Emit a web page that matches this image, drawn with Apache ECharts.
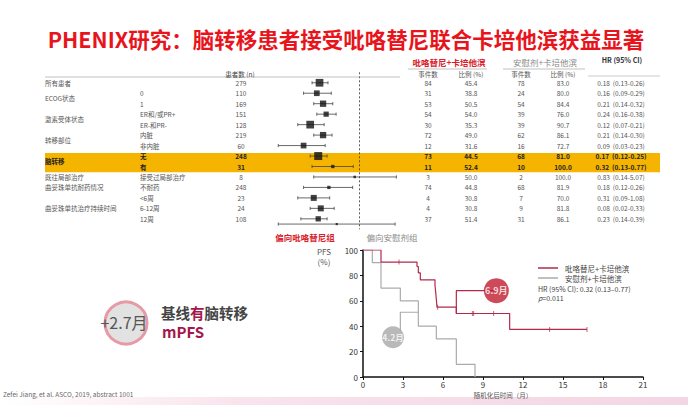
<!DOCTYPE html>
<html><head><meta charset="utf-8">
<script src="https://cdn.jsdelivr.net/npm/echarts@6/dist/echarts.min.js"></script>
<style>html,body{margin:0;padding:0;background:#fff}#c{width:688px;height:405px}</style>
</head><body><div id="c"></div>
<script>
// ---------------- DATA ----------------
const groupLabels = ['所有患者','ECOG状态','激素受体状态','转移部位','脑转移','既往局部治疗','曲妥珠单抗耐药情况','曲妥珠单抗治疗持续时间'];
const groupFirstRow = [0,1,3,5,7,9,10,11];
const groupLastRow  = [0,2,4,6,8,9,10,13];
const subgroupLabels = ['','0','1','ER和/或PR+','ER-和PR-','内脏','非内脏','无','有','接受过局部治疗','不耐药','<6周','6-12周','12周'];
const highlightRows = [7,8];
const patientsN  = [279,110,169,151,128,219,60,248,31,8,248,23,24,108];
const pyroEvents = [84,31,53,54,30,72,12,73,11,3,74,4,4,37];
const pyroPct    = [45.4,38.8,50.5,54.0,35.3,49.0,31.6,44.5,52.4,50.0,44.8,30.8,30.8,51.4];
const placEvents = [78,24,54,39,39,62,16,68,10,2,68,7,9,31];
const placPct    = [83.0,80.0,84.4,76.0,90.7,86.1,72.7,81.0,100.0,100.0,81.9,70.0,81.8,86.1];
const hrValue = [0.18,0.16,0.21,0.24,0.12,0.21,0.09,0.17,0.32,0.83,0.18,0.31,0.08,0.23];
const hrLow   = [0.13,0.09,0.14,0.16,0.07,0.14,0.03,0.12,0.13,0.14,0.12,0.09,0.02,0.14];
const hrHigh  = [0.26,0.29,0.32,0.38,0.21,0.30,0.23,0.25,0.77,5.07,0.26,1.08,0.33,0.39];
// forest plot marks as drawn in the picture
const forestRow  = [0,1,2,3,4,5,6,7,8,9,10,11,12,13,13.5];
const forestHR   = [0.18,0.16,0.21,0.24,0.12,0.21,0.09,0.17,0.32,0.83,0.27,0.14,0.19,0.17,0.38];
const forestLow  = [0.13,0.09,0.14,0.16,0.07,0.14,0.03,0.12,0.13,0.14,0.09,0.07,0.12,0.08,0.03];
const forestHigh = [0.26,0.30,0.32,0.37,0.22,0.31,0.23,0.25,0.78,5.07,0.76,0.28,0.34,0.25,4.8];
// Kaplan-Meier PFS
const pyroName = '吡咯替尼+卡培他滨';
const placName = '安慰剂+卡培他滨';
const pyroTime = [0,1.35,4.05,4.15,4.3,5.4,5.45,5.5,5.55,7.0,11.0,16.8];
const pyroSurv = [100,90.5,87,82,76.5,72,67,61,55,50,37.5,37.5];
const pyroCensorTime = [2.7,5.6,8.2,8.3,9.8,14.0,16.8];
const pyroCensorSurv = [90.5,55,50,50,50,37.5,37.5];
const placTime = [0,0.7,1.35,2.8,4.15,5.5,7.0,8.4];
const placSurv = [100,90,70,60,40,30,10,0];
const pyroMedian = 6.9, placMedian = 4.2, medianGain = 2.7;
const overallHR = '0.32 (0.13–0.77)', pValue = '0.011';

// ---------------- STYLE ----------------
const FONT = '"Noto Sans CJK SC", "Noto Sans", sans-serif';
const SQUARE_SIZE = [7.7,5.7,6.3,5.2,7.7,6.3,5.7,8,3.3,2.5,3.3,6,6,5.3,2.2];
const RED = '#b3294c', GRAY = '#ababab';

const chart = echarts.init(document.getElementById('c'), null, {renderer:'svg', width:688, height:405});

function T(text, x, y, size, color, align, weight) {
  return {type:'text', silent:true, z:10, style:{text:text, x:x, y:y, fill:color,
    font:(weight||'normal')+' '+size+'px '+FONT, textAlign:align||'left', textVerticalAlign:'middle'}};
}
function L(x1,y1,x2,y2,c,w){return {type:'line',silent:true,z:10,shape:{x1,y1,x2,y2},style:{stroke:c,lineWidth:w||0.6}};}

const km = (t,s)=>t.map((v,i)=>[v,s[i]]);

const option = {
  animation:false,
  backgroundColor:'#ffffff',
  grid:[
    {left:253, top:72.3, width:159, height:157, outerBoundsMode:'none'},
    {left:363, top:250, width:280, height:127, outerBoundsMode:'none'}
  ],
  xAxis:[
    {gridIndex:0, type:'log', logBase:10, min:0.01, max:10, show:false},
    {gridIndex:1, type:'value', min:0, max:21, interval:3,
     axisLine:{show:true, lineStyle:{color:'#111', width:1.5}},
     axisTick:{show:true, length:3, lineStyle:{color:'#111'}},
     axisLabel:{fontSize:8, color:'#333', margin:3, fontFamily:FONT},
     splitLine:{show:false},
     name:'随机化后时间（月）', nameLocation:'middle', nameGap:15,
     nameTextStyle:{fontSize:6.5, color:'#555', fontFamily:FONT}}
  ],
  yAxis:[
    {gridIndex:0, type:'value', min:-1, max:14, inverse:true, show:false},
    {gridIndex:1, type:'value', min:0, max:100, interval:20,
     axisLine:{show:true, lineStyle:{color:'#111', width:1.5}},
     axisTick:{show:true, length:3, lineStyle:{color:'#111'}},
     axisLabel:{fontSize:8, color:'#333', margin:5, fontFamily:FONT},
     splitLine:{show:false}}
  ],
  title:[
    {text:'{a|基线}{b|有}{a|脑转移}', left:161, top:305, padding:0,
     textStyle:{fontWeight:'bold', rich:{a:{fontSize:14.5, fontWeight:'bold', color:'#444', fontFamily:FONT},
                      b:{fontSize:14.5, fontWeight:'bold', color:'#a3174d', fontFamily:FONT}}}},
    {text:'mPFS', left:162, top:324, padding:0,
     textStyle:{fontSize:15, fontWeight:'bold', color:'#a3174d', fontFamily:FONT}},
    {text:'{i|p}{n|=' + pValue + '}', left:538, top:294, padding:0,
     textStyle:{fontSize:7, fontWeight:'normal', color:'#444', fontFamily:FONT,
       rich:{i:{fontStyle:'italic', fontWeight:'normal', fontSize:7, color:'#444', fontFamily:FONT},
             n:{fontWeight:'normal', fontSize:7, color:'#444', fontFamily:FONT}}}}
  ],
  graphic:[
    {type:'rect', silent:true, z:0, shape:{x:0,y:397,width:688,height:8},
     style:{fill:new echarts.graphic.LinearGradient(0,0,1,0,[{offset:0,color:'#ffffff'},{offset:0.35,color:'#f9e3ec'},{offset:1,color:'#f3d6e3'}])}},
    T('PHENIX研究：脑转移患者接受吡咯替尼联合卡培他滨获益显著', 346, 38, 21.5, '#e8141c', 'center', 'bold'),
    T(pyroName, 449, 62, 8.5, '#d8202a', 'center', 'bold'),
    T(placName, 545, 62, 8.5, '#8a8a8a', 'center'),
    T('HR (95% CI)', 622, 60, 7, '#333', 'center', 'bold'),
    L(408,69,487,69,'#999'), L(503,69,585,69,'#999'), L(588,76,660,76,'#aaa'),
    L(45,77,400,77,'#999'),
    T('患者数 (n)', 240, 73.5, 6.5, '#444', 'center'),
    T('事件数', 428, 73.5, 6.5, '#555', 'center'),
    T('比例 (%)', 471, 73.5, 6.5, '#555', 'center'),
    T('事件数', 521, 73.5, 6.5, '#555', 'center'),
    T('比例 (%)', 563, 73.5, 6.5, '#555', 'center'),
    T('偏向吡咯替尼组', 305, 237, 8.5, '#d8202a', 'center', 'bold'),
    T('偏向安慰剂组', 392, 237, 8.5, '#8a8a8a', 'center'),
    T('PFS', 324, 251, 8, '#555', 'center'),
    T('(%)', 324, 261, 8, '#555', 'center'),
    // legend
    L(538,268,558,268,RED,1.5), T(pyroName, 565, 268, 7.5, '#444', 'left'),
    L(538,278,558,278,GRAY,1.5), T(placName, 565, 278, 7.5, '#444', 'left'),
    T('HR (95% CI): ' + overallHR, 538, 289, 7, '#444', 'left'),
    {type:'circle', silent:true, z:5, shape:{cx:126, cy:323, r:21}, style:{fill:'#e2e2e2', stroke:'#e69aa6', lineWidth:3}},
    T('+' + medianGain + '月', 124, 322, 16, '#555', 'center'),
    T('Zefei Jiang, et al. ASCO, 2019, abstract 1001', 3, 394, 6.5, '#666', 'left')
  ],
  series:[
    {type:'custom', xAxisIndex:0, yAxisIndex:0, z:1, silent:true, clip:false,
     data:[[1, highlightRows[0], highlightRows[highlightRows.length-1]]],
     encode:{x:0, y:1},
     renderItem:function(params, api){
       const top = api.coord([1, api.value(1)-0.3])[1];
       const bot = api.coord([1, api.value(2)+0.55])[1];
       return {type:'rect', shape:{x:45, y:top, width:615, height:bot-top}, style:{fill:'#f5b400'}};
     }},
    {type:'custom', xAxisIndex:0, yAxisIndex:0, z:6, silent:true, clip:false,
     data:groupLabels.map((g,i)=>[1,(groupFirstRow[i]+groupLastRow[i])/2, groupFirstRow[i]]),
     encode:{x:0, y:1},
     renderItem:function(params, api){
       const y = api.coord([1, api.value(1)])[1];
       const hl = highlightRows.indexOf(api.value(2))>=0;
       return {type:'text', style:{text:groupLabels[params.dataIndex], x:45, y:y,
         fill: hl?'#222':'#555', font:(hl?'bold ':'')+'6.5px '+FONT, textAlign:'left', textVerticalAlign:'middle'}};
     }},
    {type:'custom', xAxisIndex:0, yAxisIndex:0, z:6, silent:true, clip:false,
     data:patientsN.map((n,i)=>[1,i]),
     encode:{x:0, y:1},
     renderItem:function(params, api){
       const i = params.dataIndex;
       const y = api.coord([1, i])[1];
       const hl = highlightRows.indexOf(i)>=0;
       const col = hl?'#222':'#555';
       const f = (hl?'bold ':'')+'6.5px '+FONT;
       const t = (s,x,a)=>({type:'text', style:{text:String(s), x:x, y:y, fill:col, font:f, textAlign:a, textVerticalAlign:'middle'}});
       return {type:'group', children:[
         t(subgroupLabels[i], 140, 'left'),
         t(patientsN[i], 241, 'center'),
         t(pyroEvents[i], 428, 'center'),
         t(pyroPct[i].toFixed(1), 471, 'center'),
         t(placEvents[i], 521, 'center'),
         t(placPct[i].toFixed(1), 563, 'center'),
         t(hrValue[i].toFixed(2)+'  ('+hrLow[i].toFixed(2)+'-'+hrHigh[i].toFixed(2)+')', 621, 'center')
       ]};
     }},
    {type:'custom', xAxisIndex:0, yAxisIndex:0, z:4, silent:true, clip:false,
     data:forestRow.map((r,i)=>[forestLow[i], forestHigh[i], r]),
     encode:{x:[0,1], y:2},
     renderItem:function(params, api){
       const a = api.coord([api.value(0), api.value(2)]);
       const b = api.coord([api.value(1), api.value(2)]);
       const y = a[1], s = {stroke:'#444', lineWidth:0.8};
       return {type:'group', children:[
         {type:'line', shape:{x1:a[0],y1:y,x2:b[0],y2:y}, style:s},
         {type:'line', shape:{x1:a[0],y1:y-1.6,x2:a[0],y2:y+1.6}, style:s},
         {type:'line', shape:{x1:b[0],y1:y-1.6,x2:b[0],y2:y+1.6}, style:s}
       ]};
     },
     markLine:{silent:true, symbol:'none', label:{show:false},
       lineStyle:{color:'#333', type:[2,2], width:0.8},
       data:[{xAxis:1}]}
    },
    {type:'scatter', xAxisIndex:0, yAxisIndex:0, z:5, silent:true,
     data:forestRow.map((r,i)=>[forestHR[i], r]),
     symbol:'rect', symbolSize:function(v,p){return SQUARE_SIZE[p.dataIndex];},
     itemStyle:{color:'#111'}},
    {type:'line', name:placName, xAxisIndex:1, yAxisIndex:1, step:'end', symbol:'none', silent:true,
     data:km(placTime, placSurv), lineStyle:{color:GRAY, width:1.2}, itemStyle:{color:GRAY}},
    {type:'line', name:pyroName, xAxisIndex:1, yAxisIndex:1, step:'end', symbol:'none', silent:true,
     data:km(pyroTime, pyroSurv), lineStyle:{color:RED, width:1.2}, itemStyle:{color:RED}},
    {type:'scatter', xAxisIndex:1, yAxisIndex:1, symbol:'rect', symbolSize:[0.9,5], silent:true,
     data:km(pyroCensorTime, pyroCensorSurv), itemStyle:{color:RED}},
    {type:'line', xAxisIndex:1, yAxisIndex:1, symbol:'none', silent:true,
     data:[[7.0,50],[7.0,68],[10.0,68]], lineStyle:{color:RED, width:1.2}},
    {type:'line', xAxisIndex:1, yAxisIndex:1, symbol:'none', silent:true,
     data:[[2.8,36],[2.8,51],[4.15,51]], lineStyle:{color:GRAY, width:1.2}},
    {type:'scatter', xAxisIndex:1, yAxisIndex:1, symbolSize:25, silent:true, z:6,
     data:[[10.0,68]], itemStyle:{color:'#c11d30'},
     label:{show:true, position:'inside', formatter:pyroMedian+'月', color:'#fff', fontSize:9, fontWeight:'bold', fontFamily:FONT}},
    {type:'scatter', xAxisIndex:1, yAxisIndex:1, symbolSize:22, silent:true, z:6,
     data:[[2.25,31.3]], itemStyle:{color:'#a8a8a8'},
     label:{show:true, position:'inside', formatter:placMedian+'月', color:'#fff', fontSize:8.5, fontWeight:'bold', fontFamily:FONT}}
  ]
};
chart.setOption(option);
</script></body></html>
